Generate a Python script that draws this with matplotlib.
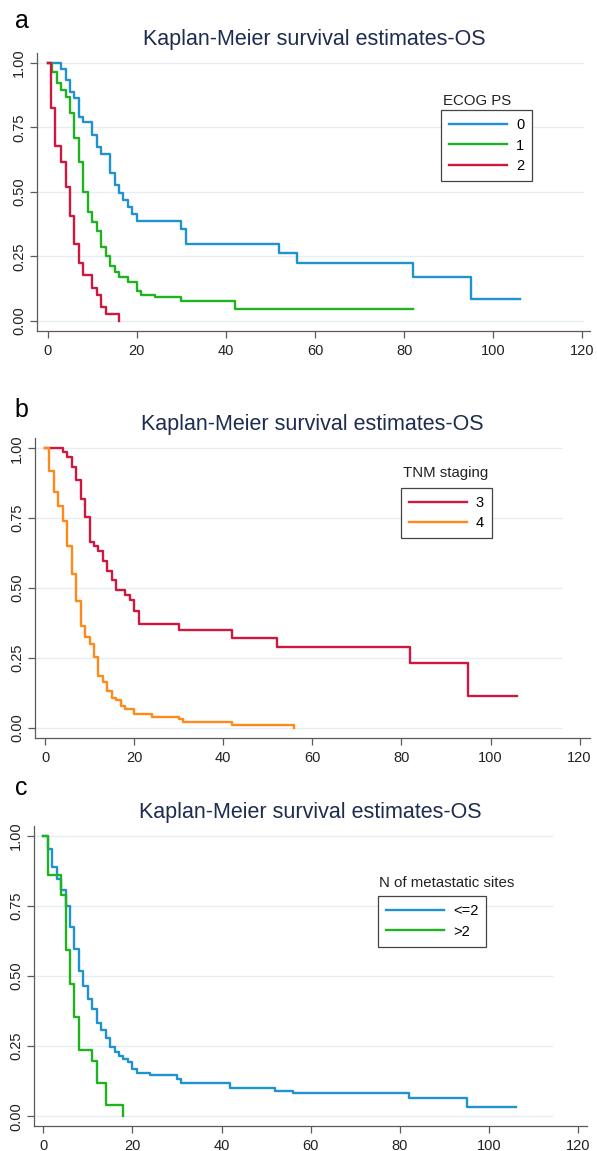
import matplotlib
matplotlib.use("Agg")
import matplotlib.pyplot as plt

plt.rcParams['font.family'] = ['Liberation Sans', 'DejaVu Sans']

W, H = 597, 1151

title_txt = "Kaplan-Meier survival estimates-OS"
xticks = [0, 20, 40, 60, 80, 100, 120]
yticks = [0, 0.25, 0.5, 0.75, 1.0]

# panel a - ECOG PS
ecog0_t = [0, 3, 4, 5, 6, 7, 8, 10, 11, 12, 14, 15, 16, 17, 18, 19, 20, 30, 31, 52, 56, 82, 95, 106]
ecog0_s = [1, 0.977, 0.933, 0.888, 0.862, 0.79, 0.769, 0.72, 0.675, 0.646, 0.572, 0.526, 0.497,
           0.468, 0.44, 0.414, 0.387, 0.355, 0.297, 0.264, 0.226, 0.169, 0.085, 0.085]
ecog1_t = [0, 1, 2, 3, 4, 5, 6, 7, 8, 9, 10, 11, 12, 13, 14, 15, 16, 18, 20, 21, 24, 30, 42, 82]
ecog1_s = [1, 0.965, 0.92, 0.894, 0.868, 0.804, 0.71, 0.617, 0.50, 0.423, 0.385, 0.348, 0.285,
           0.253, 0.214, 0.191, 0.172, 0.152, 0.116, 0.10, 0.094, 0.077, 0.045, 0.045]
ecog2_t = [0, 0.7, 1.6, 3, 4, 5, 6, 7, 8, 10, 11, 12, 13, 16]
ecog2_s = [1, 0.823, 0.679, 0.617, 0.517, 0.408, 0.297, 0.226, 0.178, 0.126, 0.10, 0.053, 0.026, 0.0]

# panel b - TNM staging
tnm3_t = [0, 4, 5, 6, 7, 8, 9, 10, 11, 12, 13, 14, 15, 16, 18, 19, 20, 21, 30, 42, 52, 82, 95, 106]
tnm3_s = [1, 0.988, 0.97, 0.934, 0.887, 0.819, 0.753, 0.666, 0.65, 0.632, 0.598, 0.562, 0.529,
          0.493, 0.475, 0.457, 0.418, 0.371, 0.35, 0.32, 0.288, 0.23, 0.115, 0.115]
tnm4_t = [0, 1, 2, 3, 4, 5, 6, 7, 8, 9, 10, 11, 12, 13, 14, 15, 16, 17, 18, 20, 24, 30, 31, 42, 56]
tnm4_s = [1, 0.92, 0.842, 0.794, 0.741, 0.652, 0.55, 0.455, 0.364, 0.323, 0.298, 0.252, 0.186,
          0.165, 0.131, 0.107, 0.099, 0.079, 0.066, 0.048, 0.039, 0.031, 0.019, 0.0095, 0.0]

# panel c - number of metastatic sites
met_le2_t = [0, 1, 2, 3, 4, 5, 6, 7, 8, 9, 10, 11, 12, 13, 14, 15, 16, 17, 18, 19, 20, 21,
             24, 30, 31, 42, 52, 56, 82, 95, 106]
met_le2_s = [1, 0.952, 0.888, 0.845, 0.807, 0.751, 0.677, 0.597, 0.52, 0.466, 0.419, 0.383,
             0.334, 0.308, 0.278, 0.249, 0.231, 0.215, 0.203, 0.195, 0.168, 0.153,
             0.147, 0.132, 0.12, 0.102, 0.09, 0.084, 0.067, 0.034, 0.034]
met_gt2_t = [0, 1, 4, 5, 6, 7, 8, 11, 12, 14, 18]
met_gt2_s = [1, 0.861, 0.79, 0.593, 0.472, 0.355, 0.238, 0.199, 0.12, 0.04, 0.0]

BLUE = "#1f93cf"
GREEN = "#1fb41f"
RED = "#cf1840"
ORANGE = "#ff8a1c"
GRID = "#e4eef3"
AXC = "#5a5a5a"
TITLEC = "#1e2c50"

panels = [
    dict(letter="a", curves=[(ecog0_t, ecog0_s, BLUE, "0"), (ecog1_t, ecog1_s, GREEN, "1"),
                              (ecog2_t, ecog2_s, RED, "2")],
         leg_title="ECOG PS",
         # pixel layout of each panel
         left=37.3, right=590, top=53.3, bottom=331, x0=47.7, y1=62.7, y0=321, grid_end=120.3,
         title_xy=(314, 40), letter_xy=(22, 21),
         leg_xy=(441, 110), leg_title_xy=(443, 101)),
    dict(letter="b", curves=[(tnm3_t, tnm3_s, RED, "3"), (tnm4_t, tnm4_s, ORANGE, "4")],
         leg_title="TNM staging",
         left=35, right=590, top=438.3, bottom=737.7, x0=45, y1=448.3, y0=727.7, grid_end=116,
         title_xy=(312.5, 424), letter_xy=(21.5, 410),
         leg_xy=(400.7, 487.7), leg_title_xy=(402.7, 473)),
    dict(letter="c", curves=[(met_le2_t, met_le2_s, BLUE, "<=2"), (met_gt2_t, met_gt2_s, GREEN, ">2")],
         leg_title="N of metastatic sites",
         left=34, right=586.7, top=826, bottom=1126, x0=43.3, y1=836, y0=1116.3, grid_end=114.4,
         title_xy=(310.5, 812.5), letter_xy=(21, 788),
         leg_xy=(377.7, 896), leg_title_xy=(379, 883)),
]

fig = plt.figure(figsize=(W / 100, H / 100), dpi=100)

for p in panels:
    ax = fig.add_axes([p["left"] / W, 1 - p["bottom"] / H,
                       (p["right"] - p["left"]) / W, (p["bottom"] - p["top"]) / H])
    xscale = 4.455
    xmin = (p["left"] - p["x0"]) / xscale
    xmax = (p["right"] - p["x0"]) / xscale
    yscale = p["y0"] - p["y1"]
    ymin = -(p["bottom"] - p["y0"]) / yscale
    ymax = (p["y0"] - p["top"]) / yscale
    ax.set_xlim(xmin, xmax)
    ax.set_ylim(ymin, ymax)

    ax.hlines(yticks, xmin, p["grid_end"], colors=GRID, lw=1.0, zorder=1)

    for t, s, c, lab in p["curves"]:
        ax.step(t, s, where="post", color=c, lw=1.7, label=lab, zorder=3)

    for side in ["top", "right"]:
        ax.spines[side].set_visible(False)
    for side in ["left", "bottom"]:
        ax.spines[side].set_color(AXC)
        ax.spines[side].set_linewidth(0.9)

    ax.set_xticks(xticks)
    ax.set_yticks(yticks)
    ax.set_yticklabels(["%.2f" % v for v in yticks], rotation=90, va="center")
    ax.tick_params(axis="both", colors=AXC, length=5, width=0.9, labelsize=10.5,
                   labelcolor="#222222")
    ax.tick_params(axis="x", pad=4.5)
    ax.tick_params(axis="y", pad=3)

    fig.text(p["title_xy"][0] / W, 1 - p["title_xy"][1] / H, title_txt, color=TITLEC,
             fontsize=15.5, ha="center", va="center")
    fig.text(p["letter_xy"][0] / W, 1 - p["letter_xy"][1] / H, p["letter"], color="black",
             fontsize=18, ha="center", va="center")
    fig.text(p["leg_title_xy"][0] / W, 1 - p["leg_title_xy"][1] / H, p["leg_title"],
             color="#222222", fontsize=10.8, ha="left", va="center")

    leg = ax.legend(loc="upper left",
                    bbox_to_anchor=(p["leg_xy"][0] / W, 1 - p["leg_xy"][1] / H),
                    bbox_transform=fig.transFigure, borderaxespad=0,
                    fontsize=10.5, handlelength=4.0, handletextpad=0.6,
                    labelspacing=0.45, borderpad=0.55, fancybox=False,
                    framealpha=1, edgecolor="#444444")
    leg.get_frame().set_linewidth(0.9)
    for line in leg.get_lines():
        line.set_linewidth(1.7)

fig.savefig("out.png", dpi=100, facecolor="white")
